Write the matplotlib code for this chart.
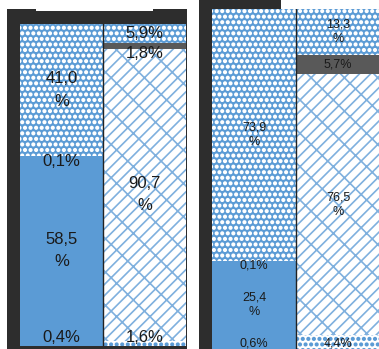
import matplotlib
matplotlib.use("Agg")
import matplotlib.pyplot as plt
from matplotlib.patches import Rectangle
from matplotlib import hatch as mhatch

plt.rcParams['hatch.linewidth'] = 1.2
# bigger filled dots for the '.' hatch
mhatch.SmallFilledCircles.size = 0.22

# ---- data ----
bars = ["A", "B"]
left_seg1 = [0.4, 1.6]
left_seg2 = [58.5, 90.7]
left_seg3 = [0.1, 1.8]
left_seg4 = [41.0, 5.9]

right_seg1 = [0.6, 4.4]
right_seg2 = [25.4, 76.5]
right_seg3 = [0.1, 5.7]
right_seg4 = [73.9, 13.3]

BLUE = "#5B9BD5"
GRAY = "#595959"
FRAME = "#2d2d2d"
FONT = ['Liberation Sans Narrow', 'Liberation Sans', 'DejaVu Sans']

# style per bar per segment: (face, hatchcolor, hatch)
styles = [
    [(BLUE, BLUE, None), (BLUE, BLUE, None), (BLUE, "white", "..."), (BLUE, "white", "...")],
    [("white", BLUE, "..."), ("white", "#7fb0de", "///\\"), (GRAY, "#bbbbbb", None), (BLUE, "white", "...")],
]

W, H = 379, 349
fig = plt.figure(figsize=(W / 100, H / 100), dpi=100)
fig.patch.set_facecolor("white")

def px_axes(x0, y0, x1, y1):
    ax = fig.add_axes([x0 / W, 1 - y1 / H, (x1 - x0) / W, (y1 - y0) / H])
    ax.set_zorder(3)
    return ax

def frame(x0, y0, x1, y1, color=FRAME):
    fig.patches.append(Rectangle((x0 / W, 1 - y1 / H), (x1 - x0) / W, (y1 - y0) / H,
                                 transform=fig.transFigure, facecolor=color,
                                 edgecolor="none", zorder=-1))

# frames (decoration)
frame(7, 9, 187, 352)
frame(36, 8, 153, 11, "white")
frame(199, -2, 212, 352)
frame(199, -2, 281, 9)


def draw_panel(ax, segs, fsize, lsp, small_off, bottom_off):
    x = list(range(len(bars)))
    bottoms = [0.0] * len(bars)
    for si, seg in enumerate(segs):
        for bi in x:
            face, hc, hatch = styles[bi][si]
            ax.bar(bi, seg[bi], bottom=bottoms[bi], width=1.0, color=face,
                   edgecolor=hc, linewidth=0, hatch=hatch, zorder=2)
        for bi in x:
            v = seg[bi]
            b = bottoms[bi]
            txt = f"{v:.1f}".replace(".", ",")
            kw = dict(ha="center", va="center", fontsize=fsize, family=FONT,
                      color="#1a1a1a", zorder=5)
            if v >= 10:
                ax.text(bi, b + v / 2, txt + "\n%", linespacing=lsp, **kw)
            elif si == 0:
                ax.annotate(txt + "%", (bi, 0), xytext=(0, bottom_off),
                            textcoords="offset pixels", **kw)
            elif v < 3:
                ax.annotate(txt + "%", (bi, b), xytext=(0, -small_off),
                            textcoords="offset pixels", **kw)
            else:
                ax.text(bi, b + v / 2, txt + "%", **kw)
        bottoms = [bottoms[i] + seg[i] for i in x]
    ax.set_xlim(-0.5, 1.5)
    ax.set_ylim(0, 100)
    ax.axvline(0.5, color="#222222", lw=1.0, zorder=4)
    ax.set_axis_off()


axL = px_axes(20, 24, 186, 346)
draw_panel(axL, [left_seg1, left_seg2, left_seg3, left_seg4], 12, 1.6, 5, 9)

axR = px_axes(212, 9, 380, 350)
draw_panel(axR, [right_seg1, right_seg2, right_seg3, right_seg4], 9, 1.25, 4, 7)

fig.savefig("out.png", dpi=100, facecolor="white")
